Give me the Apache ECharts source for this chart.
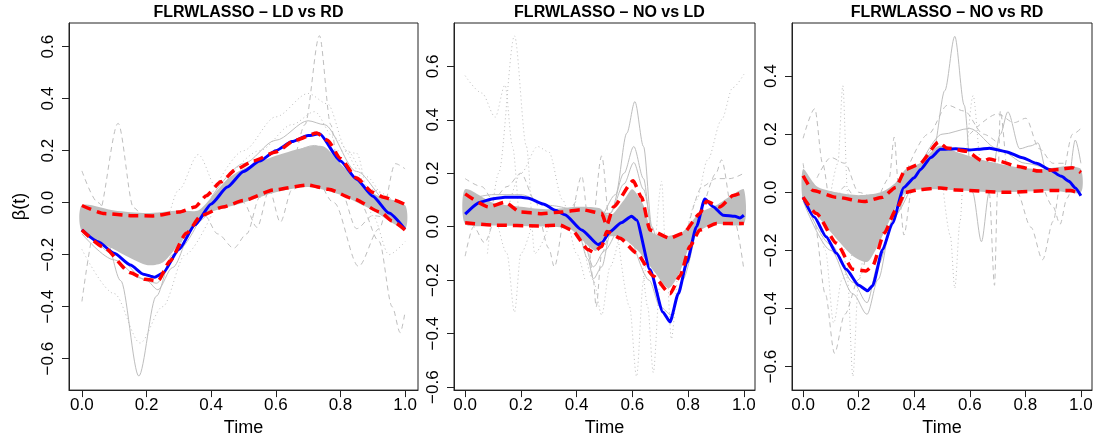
<!DOCTYPE html>
<html>
<head>
<meta charset="utf-8">
<title>FLRWLASSO beta(t)</title>
<script src="https://cdn.jsdelivr.net/npm/echarts@6.0.0/dist/echarts.min.js"></script>
<style>
html,body{margin:0;padding:0;background:#fff;}
#chart{width:1103px;height:442px;}
</style>
</head>
<body>
<div id="chart"></div>
<script>
// ticks and titles
const timeTicks = [0, 0.2, 0.4, 0.6, 0.8, 1.0];
const betaTicks12 = [-0.6, -0.4, -0.2, 0, 0.2, 0.4, 0.6];
const betaTicks3 = [-0.6, -0.4, -0.2, 0, 0.2, 0.4];
const titles = ['FLRWLASSO \u2013 LD vs RD', 'FLRWLASSO \u2013 NO vs LD', 'FLRWLASSO \u2013 NO vs RD'];

// ---------- panel 1 : LD vs RD ----------
const p1Blue = [[0,-0.105],[0.05,-0.15],[0.1,-0.195],[0.15,-0.24],[0.19,-0.275],[0.225,-0.287],[0.25,-0.272],[0.3,-0.18],[0.35,-0.085],[0.4,-0.005],[0.45,0.06],[0.5,0.12],[0.55,0.16],[0.6,0.2],[0.65,0.235],[0.7,0.258],[0.735,0.265],[0.8,0.16],[0.85,0.09],[0.9,0.025],[0.95,-0.04],[1,-0.103]];
const p1RedUp = [[0,-0.011],[0.07,-0.042],[0.15,-0.05],[0.22,-0.051],[0.3,-0.036],[0.35,-0.017],[0.385,0.027],[0.43,0.08],[0.477,0.128],[0.53,0.16],[0.6,0.195],[0.66,0.24],[0.727,0.268],[0.76,0.24],[0.8,0.17],[0.85,0.095],[0.9,0.04],[0.933,0.021],[0.96,0.012],[1,-0.007]];
const p1RedLow = [[0,-0.105],[0.066,-0.17],[0.15,-0.27],[0.195,-0.295],[0.236,-0.3],[0.272,-0.225],[0.323,-0.118],[0.37,-0.049],[0.436,-0.017],[0.5,0.008],[0.594,0.049],[0.697,0.068],[0.763,0.052],[0.84,0.015],[0.923,-0.036],[0.96,-0.07],[1,-0.105]];
const p1BandHigh = [[0,-0.01],[0.1,-0.03],[0.2,-0.04],[0.3,-0.03],[0.36,-0.03],[0.4,0.02],[0.45,0.09],[0.5,0.13],[0.6,0.18],[0.7,0.215],[0.75,0.215],[0.8,0.15],[0.9,0.035],[1,-0.01]];
const p1BandLow = [[0,-0.11],[0.1,-0.18],[0.2,-0.24],[0.25,-0.23],[0.3,-0.16],[0.37,-0.06],[0.4,-0.035],[0.5,0.0],[0.6,0.04],[0.7,0.06],[0.8,0.03],[0.9,-0.03],[1,-0.1]];
const p1GraySolid = [
  [[0,-0.07],[0.07,-0.12],[0.12,-0.3],[0.176,-0.667],[0.23,-0.36],[0.28,-0.2],[0.35,-0.06],[0.45,0.06],[0.6,0.17],[0.72,0.22],[0.85,0.06],[1,-0.06]],
  [[0.4,0.02],[0.5,0.15],[0.6,0.24],[0.7,0.315],[0.75,0.3],[0.85,0.12],[0.95,0.0],[1,-0.05]],
  [[0,-0.08],[0.1,-0.2],[0.2,-0.3],[0.235,-0.335],[0.28,-0.25],[0.35,-0.08],[0.4,-0.03]],
  [[0,-0.12],[0.1,-0.22],[0.18,-0.29],[0.23,-0.31],[0.3,-0.18],[0.37,-0.05]]
];
const p1GrayDashed = [
  [[0,-0.38],[0.05,-0.05],[0.112,0.305],[0.16,-0.02],[0.22,-0.12],[0.3,-0.06],[0.38,-0.05],[0.42,-0.12],[0.47,-0.175],[0.51,-0.12],[0.55,0.02],[0.62,0.1],[0.7,0.12],[0.8,0.07],[0.9,-0.02],[1,-0.08]],
  [[0.4,-0.03],[0.55,0.1],[0.65,0.15],[0.69,0.3],[0.735,0.642],[0.77,0.3],[0.8,0.05],[0.85,-0.1],[0.9,-0.05],[1,-0.08]],
  [[0.6,0.17],[0.7,0.2],[0.8,0.1],[0.86,0.0],[0.92,-0.15],[0.96,-0.4],[0.985,-0.5],[1,-0.42]],
  [[0.6,0.14],[0.7,0.15],[0.78,0.0],[0.856,-0.245],[0.92,-0.1],[0.97,0.15],[1,0.13]],
  [[0.45,0.05],[0.5,0.0],[0.542,-0.095],[0.58,0.05],[0.614,-0.075],[0.65,0.05],[0.7,0.1]],
  [[0,0.122],[0.05,0.0],[0.1,-0.1],[0.15,-0.2],[0.2,-0.23],[0.3,-0.12]]
];
const p1GrayDotted = [
  [[0.4,0.03],[0.5,0.2],[0.6,0.33],[0.7,0.42],[0.76,0.38],[0.82,0.2],[0.88,0.1],[0.95,0.0],[1,-0.04]],
  [[0.2,-0.15],[0.25,-0.1],[0.3,0.05],[0.36,0.185],[0.42,0.05],[0.5,0.1]],
  [[0,-0.18],[0.1,-0.35],[0.18,-0.54],[0.25,-0.4],[0.32,-0.2],[0.4,-0.05]],
  [[0.4,0.0],[0.55,0.2],[0.65,0.3],[0.72,0.35],[0.78,0.25],[0.9,0.05],[1,-0.03]],
  [[0.7,0.15],[0.8,0.2],[0.85,0.19],[0.9,-0.05],[0.95,-0.2],[1,-0.15]]
];

// ---------- panel 2 : NO vs LD ----------
const p2Blue = [[0,0.047],[0.054,0.092],[0.1,0.105],[0.143,0.11],[0.2,0.11],[0.227,0.107],[0.28,0.085],[0.323,0.062],[0.358,0.045],[0.418,-0.012],[0.478,-0.067],[0.49,-0.06],[0.52,-0.018],[0.56,0.015],[0.597,0.039],[0.615,0.025],[0.663,-0.16],[0.71,-0.32],[0.735,-0.356],[0.765,-0.25],[0.795,-0.135],[0.83,0.0],[0.86,0.104],[0.89,0.075],[0.926,0.043],[0.968,0.039],[0.986,0.033],[1,0.043]];
const p2RedUp = [[0,0.123],[0.084,0.074],[0.143,0.092],[0.197,0.055],[0.275,0.049],[0.346,0.055],[0.418,0.064],[0.49,0.05],[0.508,0.005],[0.532,0.074],[0.603,0.172],[0.633,0.11],[0.663,-0.012],[0.735,-0.043],[0.783,-0.024],[0.842,0.049],[0.866,0.095],[0.914,0.074],[0.962,0.117],[1,0.13]];
const p2RedLow = [[0,0.015],[0.108,0.006],[0.263,0.003],[0.34,0.006],[0.382,-0.012],[0.442,-0.086],[0.46,-0.095],[0.49,-0.074],[0.508,-0.018],[0.556,-0.043],[0.615,-0.098],[0.675,-0.184],[0.735,-0.251],[0.771,-0.184],[0.806,-0.074],[0.842,-0.012],[0.902,0.012],[1,0.012]];
const p2BandHigh = [[0,0.14],[0.1,0.09],[0.2,0.075],[0.3,0.065],[0.4,0.075],[0.48,0.07],[0.52,0.04],[0.57,0.1],[0.6,0.14],[0.64,0.08],[0.67,-0.02],[0.72,-0.035],[0.78,-0.02],[0.84,0.05],[0.9,0.08],[0.96,0.12],[1,0.14]];
const p2BandLow = [[0,0.01],[0.1,0.005],[0.3,0.0],[0.38,-0.01],[0.44,-0.07],[0.47,-0.09],[0.5,-0.04],[0.56,-0.04],[0.62,-0.09],[0.68,-0.17],[0.73,-0.23],[0.77,-0.17],[0.81,-0.06],[0.85,-0.01],[0.9,0.01],[1,0.01]];
const p2GraySolid = [
  [[0.4,0.06],[0.48,0.03],[0.54,0.12],[0.58,0.35],[0.609,0.468],[0.64,0.3],[0.67,0.0],[0.7,-0.1],[0.75,-0.12],[0.8,-0.05],[0.9,0.05],[1,0.08]],
  [[0.45,0.05],[0.52,0.05],[0.57,0.2],[0.605,0.3],[0.64,0.18],[0.67,-0.03],[0.72,-0.08]],
  [[0.45,0.05],[0.52,0.05],[0.57,0.16],[0.605,0.24],[0.64,0.14],[0.67,-0.03]],
  [[0.35,0.05],[0.4,0.0],[0.44,-0.12],[0.46,-0.195],[0.49,-0.15],[0.52,-0.03],[0.56,0.0]],
  [[0.35,0.04],[0.42,-0.04],[0.46,-0.15],[0.5,-0.09],[0.54,-0.02]],
  [[0.6,-0.05],[0.66,-0.2],[0.7,-0.3],[0.74,-0.33],[0.78,-0.2],[0.83,0.0]],
  [[0,0.1],[0.1,0.12],[0.2,0.12],[0.3,0.08],[0.4,0.06]]
];
const p2GrayDashed = [
  [[0,0.18],[0.06,0.15],[0.1,0.1],[0.15,0.15],[0.2,0.2],[0.25,0.1],[0.3,-0.08],[0.32,-0.15],[0.36,0.05],[0.4,0.1]],
  [[0.38,0.0],[0.418,0.19],[0.45,-0.05],[0.49,0.265],[0.52,0.0],[0.55,-0.05]],
  [[0.85,0.05],[0.9,0.2],[0.92,0.25],[0.96,0.05],[1,-0.16]],
  [[0,-0.11],[0.03,0.0],[0.07,-0.06],[0.1,0.02]],
  [[0.44,0.0],[0.46,-0.2],[0.47,-0.3],[0.49,-0.1],[0.52,0.0]],
  [[0.8,0.0],[0.85,0.15],[0.9,0.18],[0.95,0.18],[1,0.2]]
];
const p2GrayDotted = [
  [[0.08,-0.1],[0.12,0.2],[0.177,0.714],[0.22,0.3],[0.25,-0.1],[0.3,0.0]],
  [[0.1,0.1],[0.15,-0.1],[0.177,-0.32],[0.2,-0.1],[0.25,0.05]],
  [[0,0.565],[0.06,0.5],[0.108,0.41],[0.143,0.53],[0.17,0.3],[0.2,0.0],[0.25,0.05]],
  [[0.15,0.05],[0.2,0.2],[0.26,0.3],[0.3,0.28],[0.35,0.1],[0.4,-0.1],[0.43,-0.2]],
  [[0.55,-0.05],[0.59,-0.3],[0.615,-0.56],[0.64,-0.2],[0.66,0.0]],
  [[0.63,-0.05],[0.655,-0.3],[0.675,-0.545],[0.7,-0.2],[0.72,-0.05]],
  [[0.78,-0.1],[0.83,0.1],[0.87,0.25],[0.92,0.4],[0.96,0.52],[1,0.57]],
  [[0.42,-0.05],[0.46,-0.2],[0.49,-0.33],[0.52,-0.15],[0.56,0.0]],
  [[0.68,-0.1],[0.705,0.17],[0.72,-0.1],[0.74,-0.42],[0.76,-0.2]]
];

// ---------- panel 3 : NO vs RD ----------
const p3Blue = [[0,-0.017],[0.04,-0.085],[0.083,-0.153],[0.12,-0.21],[0.155,-0.265],[0.2,-0.32],[0.232,-0.339],[0.25,-0.322],[0.286,-0.198],[0.321,-0.107],[0.363,0.017],[0.4,0.05],[0.423,0.079],[0.46,0.12],[0.494,0.148],[0.55,0.15],[0.6,0.146],[0.63,0.148],[0.671,0.152],[0.73,0.14],[0.79,0.119],[0.84,0.1],[0.886,0.079],[0.93,0.055],[0.957,0.038],[0.98,0.015],[1,-0.012]];
const p3RedUp = [[0,0.057],[0.036,0.006],[0.12,-0.017],[0.22,-0.032],[0.286,-0.017],[0.333,0.017],[0.369,0.079],[0.417,0.096],[0.488,0.173],[0.517,0.153],[0.588,0.141],[0.648,0.107],[0.67,0.115],[0.707,0.107],[0.767,0.09],[0.85,0.073],[0.921,0.079],[0.969,0.085],[1,0.068]];
const p3RedLow = [[0,-0.017],[0.048,-0.073],[0.12,-0.175],[0.179,-0.265],[0.226,-0.271],[0.25,-0.254],[0.292,-0.141],[0.333,-0.062],[0.369,0.0],[0.417,0.009],[0.494,0.015],[0.552,0.008],[0.731,0.0],[0.898,0.006],[0.963,0.006],[1,-0.006]];
const p3BandHigh = [[0,0.08],[0.05,0.02],[0.12,0.0],[0.2,-0.01],[0.28,0.0],[0.33,0.03],[0.37,0.08],[0.42,0.1],[0.49,0.16],[0.55,0.14],[0.65,0.11],[0.75,0.09],[0.85,0.08],[0.95,0.09],[1,0.08]];
const p3BandLow = [[0,-0.03],[0.05,-0.08],[0.12,-0.16],[0.18,-0.22],[0.23,-0.24],[0.26,-0.2],[0.3,-0.12],[0.34,-0.04],[0.37,0.0],[0.42,0.01],[0.5,0.01],[0.7,0.0],[0.9,0.005],[1,0.0]];
const p3GraySolid = [
  [[0.4,0.05],[0.47,0.15],[0.51,0.35],[0.546,0.537],[0.58,0.3],[0.61,0.0],[0.642,-0.17],[0.67,0.0],[0.71,0.2],[0.737,0.277],[0.78,0.15],[0.82,0.16],[0.845,0.17],[0.88,0.06],[0.95,0.0],[0.98,0.18],[1,0.1]],
  [[0,-0.03],[0.1,-0.2],[0.18,-0.35],[0.23,-0.42],[0.27,-0.3],[0.32,-0.1],[0.37,0.0]],
  [[0,-0.02],[0.1,-0.18],[0.18,-0.31],[0.23,-0.38],[0.27,-0.25],[0.33,-0.08],[0.38,0.0]],
  [[0.4,0.05],[0.5,0.2],[0.6,0.22],[0.7,0.15],[0.8,0.1],[0.9,0.08],[1,0.06]]
];
const p3GrayDashed = [
  [[0,0.186],[0.042,0.288],[0.07,0.1],[0.1,-0.05],[0.15,0.02],[0.2,-0.05]],
  [[0,0.1],[0.04,-0.1],[0.08,-0.35],[0.113,-0.554],[0.15,-0.42],[0.2,-0.3],[0.25,-0.1]],
  [[0.28,0.0],[0.31,0.05],[0.328,0.19],[0.345,0.0],[0.363,-0.147],[0.39,0.0],[0.42,0.05]],
  [[0.64,0.05],[0.67,0.0],[0.689,-0.32],[0.7,0.0],[0.71,0.28],[0.73,0.1]],
  [[0.7,0.1],[0.77,0.0],[0.82,-0.12],[0.862,-0.232],[0.9,-0.1],[0.93,0.05],[0.97,0.2],[1,0.22]],
  [[0.6,0.2],[0.7,0.27],[0.76,0.24],[0.802,0.255],[0.85,0.15],[0.9,0.1],[0.95,0.1]],
  [[0.35,0.02],[0.45,0.2],[0.52,0.3],[0.58,0.28],[0.65,0.2],[0.7,0.17]],
  [[0.85,0.06],[0.9,-0.05],[0.925,-0.11],[0.95,-0.02],[0.98,0.05],[1,0.06]],
  [[0.05,0.05],[0.1,0.12],[0.15,0.1],[0.2,0.0],[0.25,-0.02]]
];
const p3GrayDotted = [
  [[0.1,0.0],[0.125,0.1],[0.143,0.367],[0.16,0.0],[0.18,-0.2],[0.2,-0.1]],
  [[0.14,-0.1],[0.16,-0.3],[0.179,-0.633],[0.2,-0.3],[0.23,-0.1]],
  [[0.5,0.05],[0.53,-0.15],[0.546,-0.33],[0.565,-0.1],[0.58,0.1],[0.612,0.333],[0.64,0.1],[0.67,0.05]],
  [[0.05,-0.05],[0.08,-0.2],[0.11,-0.45],[0.14,-0.3],[0.18,-0.2]]
];

// layout (pixel boxes of the three plot regions) and y-limits
const grids = [{left: 69, width: 349}, {left: 454, width: 301}, {left: 792, width: 300}];
const yRanges = [[-0.721, 0.691], [-0.611, 0.762], [-0.681, 0.583]];
const yTicks = [betaTicks12, betaTicks12, betaTicks3];

const panels = [
  {blue: p1Blue, up: p1RedUp, low: p1RedLow, bandHi: p1BandHigh, bandLo: p1BandLow, solid: p1GraySolid, dashed: p1GrayDashed, dotted: p1GrayDotted},
  {blue: p2Blue, up: p2RedUp, low: p2RedLow, bandHi: p2BandHigh, bandLo: p2BandLow, solid: p2GraySolid, dashed: p2GrayDashed, dotted: p2GrayDotted},
  {blue: p3Blue, up: p3RedUp, low: p3RedLow, bandHi: p3BandHigh, bandLo: p3BandLow, solid: p3GraySolid, dashed: p3GrayDashed, dotted: p3GrayDotted}
];

const FONT = "'Liberation Sans', Arial, Helvetica, sans-serif";
const GRAY = '#bebebe';

function fmt(v) {
  return (v < 0 ? '\u2212' : '') + Math.abs(v).toFixed(1);
}

function line(idx, data, color, width, type, z, smooth) {
  return {
    type: 'line', xAxisIndex: idx, yAxisIndex: idx, data: data,
    showSymbol: false, symbol: 'none', smooth: smooth, smoothMonotone: 'x',
    lineStyle: {color: color, width: width, type: type},
    z: z, silent: true, clip: true
  };
}

// dense grey area of the bootstrap curves, polygon through the axis scales
function band(idx, hi, lo) {
  return {
    type: 'custom', xAxisIndex: idx, yAxisIndex: idx, data: [[0, 0]],
    silent: true, z: 1, clip: true,
    renderItem: function (params, api) {
      const pts = hi.map(p => api.coord(p)).concat(lo.slice().reverse().map(p => api.coord(p)));
      return {type: 'polygon', shape: {points: pts, smooth: 0.25}, style: {fill: GRAY}};
    }
  };
}

const option = {
  animation: false,
  backgroundColor: '#fff',
  title: [],
  grid: [],
  xAxis: [],
  yAxis: [],
  series: []
};

panels.forEach((p, i) => {
  const g = grids[i];
  option.title.push({
    text: titles[i], left: g.left + g.width / 2, top: 0, textAlign: 'center',
    textStyle: {fontFamily: FONT, fontWeight: 'bold', fontSize: 16, color: '#000'}
  });
  option.grid.push({
    left: g.left, width: g.width, top: 23, height: 373,
    show: true, borderColor: '#222', borderWidth: 1, backgroundColor: 'transparent'
  });
  option.xAxis.push({
    type: 'value', gridIndex: i, min: -0.04, max: 1.04,
    name: 'Time', nameLocation: 'middle', nameGap: 24,
    nameTextStyle: {fontFamily: FONT, fontSize: 18, color: '#000'},
    axisLine: {show: true, onZero: false, lineStyle: {color: '#222', width: 1}},
    axisTick: {show: true, customValues: timeTicks, length: 7, lineStyle: {color: '#222'}},
    axisLabel: {customValues: timeTicks, formatter: fmt, fontFamily: FONT, fontSize: 17, color: '#000', margin: 7},
    splitLine: {show: false}
  });
  option.yAxis.push({
    type: 'value', gridIndex: i, min: yRanges[i][0], max: yRanges[i][1],
    name: i === 0 ? '\u03b2(t)' : '', nameLocation: 'middle', nameGap: 40, nameRotate: 90,
    nameTextStyle: {fontFamily: FONT, fontSize: 18, color: '#000'},
    axisLine: {show: true, onZero: false, lineStyle: {color: '#222', width: 1}},
    axisTick: {show: true, customValues: yTicks[i], length: 7, lineStyle: {color: '#222'}},
    axisLabel: {customValues: yTicks[i], formatter: fmt, rotate: 90, fontFamily: FONT, fontSize: 17, color: '#000', margin: 12},
    splitLine: {show: false}
  });

  option.series.push(band(i, p.bandHi, p.bandLo));
  p.solid.forEach(c => option.series.push(line(i, c, GRAY, 1, 'solid', 2, 0.3)));
  p.dashed.forEach(c => option.series.push(line(i, c, GRAY, 1, [5, 4], 2, 0.3)));
  p.dotted.forEach(c => option.series.push(line(i, c, GRAY, 1, [1, 3], 2, 0.3)));
  option.series.push(line(i, p.blue, '#0000ff', 3, 'solid', 4, 0.2));
  option.series.push(line(i, p.up, '#ff0000', 3.5, [10, 6], 5, 0.2));
  option.series.push(line(i, p.low, '#ff0000', 3.5, [10, 6], 5, 0.2));
});

const chart = echarts.init(document.getElementById('chart'), null, {renderer: 'canvas'});
chart.setOption(option);
</script>
</body>
</html>
